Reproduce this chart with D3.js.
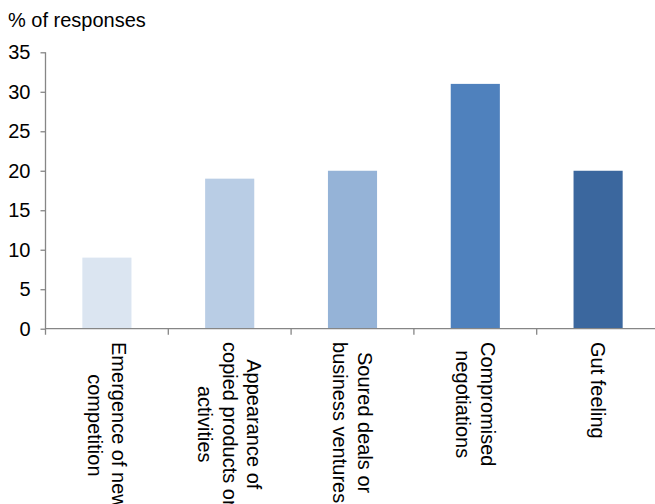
<!DOCTYPE html>
<html>
<head>
<meta charset="utf-8">
<script src="https://cdn.jsdelivr.net/npm/d3@7"></script>
<style>
  html, body { margin: 0; padding: 0; background: #fff; }
  svg { display: block; font-family: "Liberation Sans", Arial, Helvetica, sans-serif; }
</style>
</head>
<body>
<svg id="chart" width="655" height="504"></svg>
<script>
// Reasons cited, share of responses (%)
const categories = [
  ["Emergence of new", "competition"],
  ["Appearance of", "copied products or", "activities"],
  ["Soured deals or", "business ventures"],
  ["Compromised", "negotiations"],
  ["Gut feeling"]
];
const values = [9, 19, 20, 31, 20];
const barColors = ["#dbe5f1", "#b9cde5", "#95b3d7", "#4f81bd", "#3b679e"];
const yTicks = [0, 5, 10, 15, 20, 25, 30, 35];
const yTitle = "% of responses";

const svg = d3.select("#chart");
const axisColor = "#868686";

const left = 45.5, bandW = 122.8;
const x = d3.scaleBand()
  .domain(d3.range(categories.length))
  .range([left, left + bandW * categories.length])
  .paddingInner(0.6)
  .paddingOuter(0.3);

const y = d3.scaleLinear().domain([0, 35]).range([328.7, 52.3]);

// bars
svg.append("g").selectAll("rect")
  .data(values)
  .join("rect")
  .attr("x", (d, i) => x(i))
  .attr("width", x.bandwidth())
  .attr("y", d => y(d))
  .attr("height", d => y(0) - y(d))
  .attr("fill", (d, i) => barColors[i]);

// y axis
const yAxis = svg.append("g")
  .attr("transform", `translate(${left},0)`)
  .call(d3.axisLeft(y).tickValues(yTicks).tickSize(5).tickPadding(10).tickSizeOuter(0));
yAxis.select(".domain").attr("stroke", axisColor).attr("stroke-width", 1.3)
  .attr("d", `M0,${y(35)}V${y(0) + 6}`);
yAxis.selectAll(".tick line").attr("stroke", axisColor).attr("stroke-width", 1.3);
yAxis.selectAll(".tick text").attr("font-size", 20).attr("fill", "#000")
  .attr("font-family", "Liberation Sans, Arial, sans-serif");

// x axis with ticks on category boundaries
const bounds = d3.range(1, categories.length + 1).map(i => left + bandW * i);
const xAxisG = svg.append("g");
xAxisG.append("line")
  .attr("x1", left).attr("x2", 655)
  .attr("y1", y(0)).attr("y2", y(0))
  .attr("stroke", axisColor).attr("stroke-width", 1.3);
xAxisG.selectAll("line.tk")
  .data(bounds)
  .join("line")
  .attr("class", "tk")
  .attr("x1", d => d).attr("x2", d => d)
  .attr("y1", y(0)).attr("y2", y(0) + 6)
  .attr("stroke", axisColor).attr("stroke-width", 1.3);

// rotated category labels
const lineH = 24.5, labelTop = 342;
const lbl = svg.append("g").selectAll("g")
  .data(categories)
  .join("g");
lbl.each(function(lines, i) {
  const g = d3.select(this);
  const cx = x(i) + x.bandwidth() / 2;
  const t = g.append("text")
    .attr("font-size", 20)
    .attr("fill", "#000")
    .attr("text-anchor", "middle");
  lines.forEach((s, j) => {
    t.append("tspan")
      .attr("x", 0)
      .attr("y", (j - (lines.length - 1) / 2) * lineH)
      .attr("dominant-baseline", "central")
      .text(s);
  });
  const maxLen = d3.max(t.selectAll("tspan").nodes(), n => n.getComputedTextLength());
  g.attr("transform", `translate(${cx},${labelTop + maxLen / 2}) rotate(90)`);
});

// axis title
svg.append("text")
  .attr("x", 8).attr("y", 27)
  .attr("font-size", 20)
  .attr("fill", "#000")
  .text(yTitle);
</script>
</body>
</html>
